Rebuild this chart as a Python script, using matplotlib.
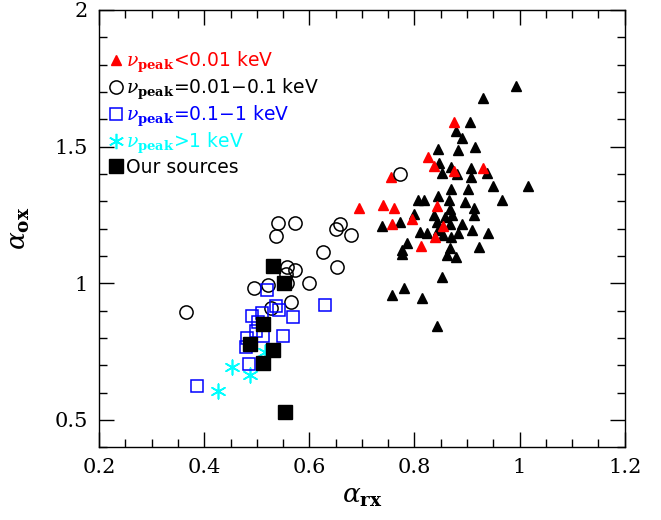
import matplotlib
matplotlib.use('Agg')
import matplotlib.pyplot as plt
from matplotlib.lines import Line2D

plt.rcParams['font.family'] = 'DejaVu Serif'
plt.rcParams['mathtext.fontset'] = 'dejavuserif'

# nu_peak < 0.01 keV (red triangles)
red_x = [0.875, 0.826, 0.837, 0.876, 0.931, 0.755, 0.695, 0.741, 0.761, 0.843,
         0.757, 0.795, 0.854, 0.839, 0.812]
red_y = [1.588, 1.460, 1.428, 1.412, 1.422, 1.390, 1.276, 1.287, 1.275, 1.281,
         1.216, 1.236, 1.211, 1.169, 1.136]

# other low-peaked sources (black triangles)
tri_x = [0.993, 0.930, 0.905, 0.880, 0.890, 0.845, 0.883, 0.916, 0.846, 0.869,
         0.852, 0.881, 0.907, 0.938, 0.907, 0.949, 1.016, 0.869, 0.902, 0.807,
         0.819, 0.845, 0.865, 0.896, 0.967, 0.914, 0.867, 0.913, 0.739, 0.772,
         0.799, 0.837, 0.858, 0.871, 0.842, 0.867, 0.891, 0.810, 0.824, 0.845,
         0.854, 0.869, 0.882, 0.909, 0.940, 0.785, 0.777, 0.777, 0.868, 0.861,
         0.879, 0.923, 0.852, 0.781, 0.758, 0.814, 0.843]
tri_y = [1.721, 1.679, 1.591, 1.557, 1.531, 1.491, 1.486, 1.497, 1.439, 1.424,
         1.404, 1.400, 1.422, 1.404, 1.388, 1.357, 1.356, 1.344, 1.343, 1.305,
         1.305, 1.319, 1.303, 1.297, 1.303, 1.276, 1.270, 1.251, 1.208, 1.223,
         1.252, 1.248, 1.242, 1.248, 1.224, 1.218, 1.216, 1.188, 1.182, 1.194,
         1.178, 1.169, 1.182, 1.194, 1.184, 1.148, 1.121, 1.107, 1.127, 1.103,
         1.097, 1.133, 1.022, 0.982, 0.957, 0.945, 0.845]

# nu_peak = 0.01-0.1 keV (open circles)
circ_x = [0.541, 0.572, 0.536, 0.651, 0.659, 0.679, 0.626, 0.653, 0.557, 0.572,
          0.555, 0.558, 0.600, 0.522, 0.494, 0.566, 0.527, 0.366, 0.773]
circ_y = [1.220, 1.222, 1.173, 1.199, 1.216, 1.176, 1.113, 1.059, 1.060, 1.048,
          1.034, 1.002, 1.000, 0.994, 0.982, 0.933, 0.909, 0.894, 1.401]

# nu_peak = 0.1-1 keV (open blue squares)
sq_x = [0.519, 0.537, 0.542, 0.630, 0.568, 0.491, 0.510, 0.503, 0.498, 0.512,
        0.550, 0.481, 0.479, 0.486, 0.387]
sq_y = [0.976, 0.915, 0.903, 0.919, 0.876, 0.879, 0.891, 0.857, 0.824, 0.806,
        0.808, 0.800, 0.766, 0.703, 0.624]

# nu_peak > 1 keV (cyan asterisks)
hbl_x = [0.452, 0.488, 0.426, 0.515]
hbl_y = [0.693, 0.663, 0.604, 0.747]

# our sources (filled black squares)
our_x = [0.531, 0.551, 0.511, 0.488, 0.530, 0.511, 0.553]
our_y = [1.064, 0.999, 0.850, 0.779, 0.757, 0.709, 0.527]

labels = [r'$\nu_{\mathbf{peak}}$<0.01 keV',
          r'$\nu_{\mathbf{peak}}$=0.01$-$0.1 keV',
          r'$\nu_{\mathbf{peak}}$=0.1$-$1 keV',
          r'$\nu_{\mathbf{peak}}$>1 keV',
          'Our sources']
label_colors = ['red', 'black', 'blue', 'cyan', 'black']

fig = plt.figure(figsize=(6.61, 5.20), dpi=100)
ax = fig.add_axes([0.150, 0.140, 0.795, 0.841])

ax.plot(tri_x, tri_y, '^', color='black', ms=6.5, ls='none')
ax.plot(red_x, red_y, '^', color='red', ms=6.5, ls='none')
ax.plot(circ_x, circ_y, 'o', mfc='none', mec='black', mew=1.1, ms=9.5, ls='none')
ax.plot(sq_x, sq_y, 's', mfc='none', mec='blue', mew=1.1, ms=8, ls='none')
ax.scatter(hbl_x, hbl_y, marker=(6, 2, 0), s=110, c='cyan', linewidths=1.2)
ax.plot(our_x, our_y, 's', color='black', ms=10, ls='none')

handles = [
    Line2D([], [], marker='^', color='red', ls='none', ms=6.5),
    Line2D([], [], marker='o', mfc='none', mec='black', mew=1.1, ls='none', ms=9.5),
    Line2D([], [], marker='s', mfc='none', mec='blue', mew=1.1, ls='none', ms=8),
    Line2D([], [], marker=(6, 2, 0), color='cyan', mew=1.2, ls='none', ms=11),
    Line2D([], [], marker='s', color='black', ls='none', ms=10),
]
leg = ax.legend(handles, labels, loc='upper left', frameon=False,
                prop={'family': 'DejaVu Sans', 'size': 13.5},
                handlelength=0.6, handletextpad=0.25, labelspacing=0.1,
                borderaxespad=0.2, bbox_to_anchor=(0.0, 0.935),
                labelcolor=label_colors)

ax.set_xlim(0.2, 1.2)
ax.set_ylim(0.4, 2.0)
ax.set_xticks([0.2, 0.4, 0.6, 0.8, 1.0, 1.2])
ax.set_xticklabels(['0.2', '0.4', '0.6', '0.8', '1', '1.2'])
ax.set_yticks([0.5, 1.0, 1.5, 2.0])
ax.set_yticklabels(['0.5', '1', '1.5', '2'])
ax.set_xticks([0.25 + 0.05 * i for i in range(19) if (i + 1) % 4 != 0], minor=True)
ax.set_yticks([0.4 + 0.1 * i for i in range(16)], minor=True)
ax.tick_params(which='both', direction='in', top=True, right=True, labelsize=15,
               width=1)
ax.tick_params(which='major', length=11, pad=8)
ax.tick_params(which='minor', length=5.5)
for s in ax.spines.values():
    s.set_linewidth(1)

ax.set_xlabel(r'$\alpha_{\mathbf{rx}}$', fontsize=19, labelpad=5)
ax.set_ylabel(r'$\alpha_{\mathbf{ox}}$', fontsize=19, labelpad=16)

fig.savefig('out.png', dpi=100)
